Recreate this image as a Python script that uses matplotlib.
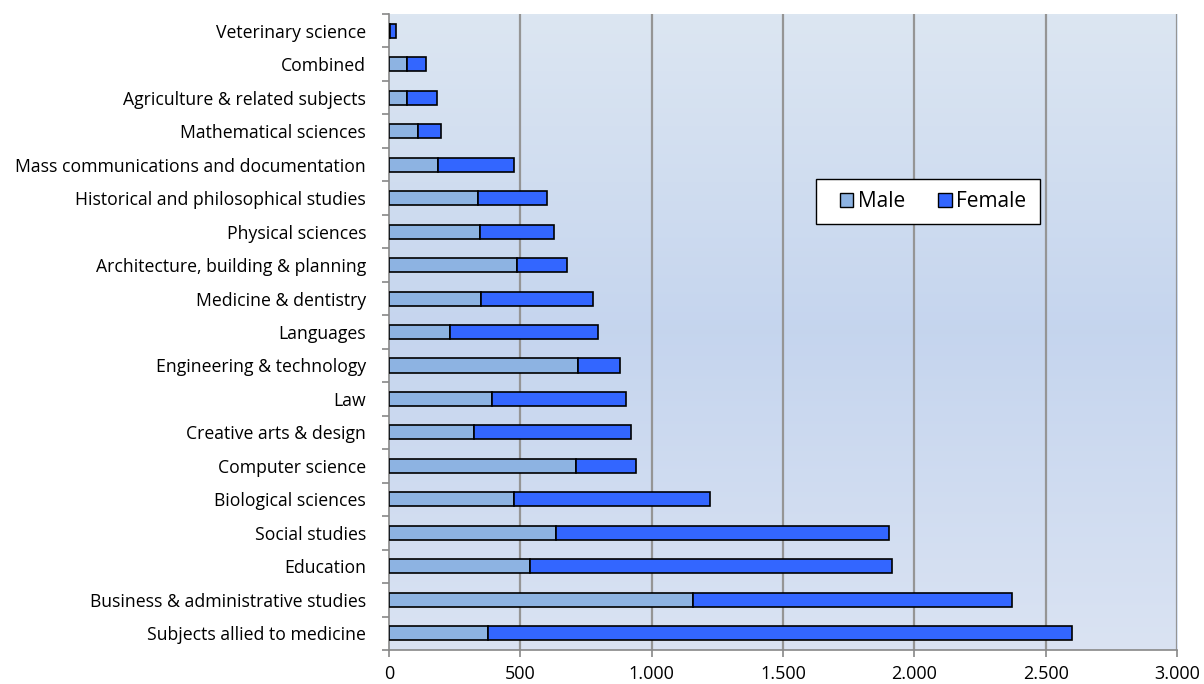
import matplotlib
matplotlib.use("Agg")
import matplotlib.pyplot as plt
import numpy as np
from matplotlib.patches import Patch, Rectangle

categories = [
    "Subjects allied to medicine",
    "Business & administrative studies",
    "Education",
    "Social studies",
    "Biological sciences",
    "Computer science",
    "Creative arts & design",
    "Law",
    "Engineering & technology",
    "Languages",
    "Medicine & dentistry",
    "Architecture, building & planning",
    "Physical sciences",
    "Historical and philosophical studies",
    "Mass communications and documentation",
    "Mathematical sciences",
    "Agriculture & related subjects",
    "Combined",
    "Veterinary science",
]
male = [376, 1157, 535, 636, 477, 713, 322, 393, 719, 233, 351, 487, 346, 340, 188, 109, 67, 67, 5]
total = [2600, 2370, 1914, 1902, 1222, 939, 920, 903, 878, 797, 778, 676, 629, 600, 477, 199, 181, 140, 28]
female = [t - m for t, m in zip(total, male)]
xticks = [0, 500, 1000, 1500, 2000, 2500, 3000]
xticklabels = ["0", "500", "1.000", "1.500", "2.000", "2.500", "3.000"]

plt.rcParams['font.family'] = ['Open Sans', 'DejaVu Sans']

fig = plt.figure(figsize=(12.04, 6.84), dpi=100)
ax = fig.add_axes([0.3231, 0.0497, 0.9776 - 0.3231, 0.9795 - 0.0497])

n = len(categories)
# gradient background
grad = np.linspace(0, 1, 256)
top = np.array([0.863, 0.902, 0.949])
mid = np.array([0.773, 0.835, 0.933])
bot = np.array([0.855, 0.890, 0.953])
cols = []
for g in grad:
    if g < 0.5:
        c = top + (mid - top) * (g / 0.5)
    else:
        c = mid + (bot - mid) * ((g - 0.5) / 0.5)
    cols.append(c)
img = np.array(cols)[:, None, :]
ax.imshow(img, extent=[0, 3000, -0.5, n - 0.5], aspect='auto', origin='upper', zorder=0)

y = np.arange(n)
h = 0.42
ax.barh(y, male, height=h, color='#8DB3E2', edgecolor='black', linewidth=1.2, zorder=3, label='Male')
ax.barh(y, female, left=male, height=h, color='#3366FF', edgecolor='black', linewidth=1.2, zorder=3, label='Female')

ax.set_xlim(0, 3000)
ax.set_ylim(-0.5, n - 0.5)
ax.set_xticks(xticks)
ax.set_xticklabels(xticklabels, fontsize=13)
ax.set_yticks(y)
ax.set_yticklabels(categories, fontsize=12.7)
ax.tick_params(axis='y', length=0, pad=16.5)
ax.set_yticks(np.arange(-0.5, n, 1), minor=True)
ax.tick_params(axis='y', which='minor', length=5, color='#888888', width=1.2)
ax.tick_params(axis='x', length=5, color='#888888', width=1.2, pad=6)
for xv in xticks[1:]:
    ax.axvline(xv, color='#959595', lw=1.6, zorder=1)
for s in ['top', 'right']:
    ax.spines[s].set_visible(False)
for s in ['left', 'bottom']:
    ax.spines[s].set_color('#888888')
    ax.spines[s].set_linewidth(1.2)

# legend box
W, H = 1204.0, 684.0
box = Rectangle((816 / W, 1 - 224 / H), 224 / W, 45 / H, transform=fig.transFigure,
                facecolor='white', edgecolor='black', linewidth=1.0, zorder=5)
fig.add_artist(box)
handles = [Patch(facecolor='#8DB3E2', edgecolor='black', label='Male'),
           Patch(facecolor='#3366FF', edgecolor='black', label='Female')]
leg = fig.legend(handles=handles, loc='center', bbox_to_anchor=(933 / W, 1 - 201.5 / H), ncol=2,
                 fontsize=15, frameon=False,
                 handlelength=0.65, handleheight=0.65, handletextpad=0.2, columnspacing=1.6,
                 borderpad=0, borderaxespad=0)
leg.set_zorder(6)

fig.savefig('out.png', dpi=100)
